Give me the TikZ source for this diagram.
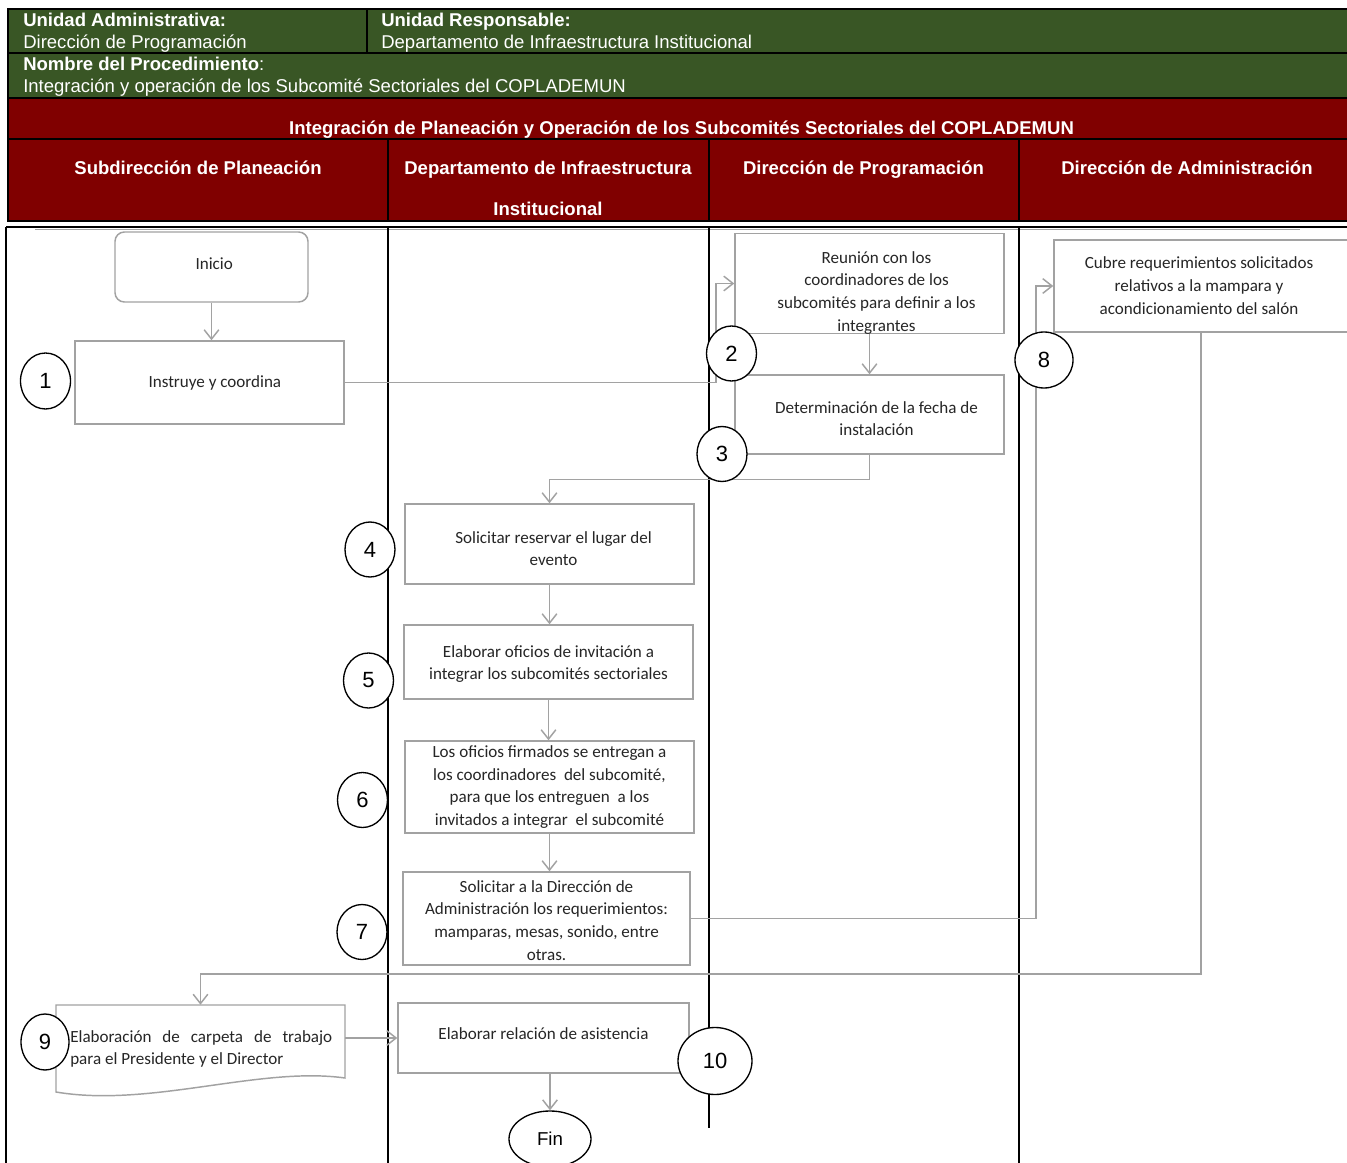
\documentclass[tikz,border=0pt]{standalone}
\usepackage{fontspec}
\setmainfont{Liberation Sans}
\newfontfamily\boxfont{Carlito}
\usetikzlibrary{arrows.meta,shapes.geometric}
\definecolor{hdrgreen}{RGB}{57,86,37}
\definecolor{hdrred}{RGB}{128,0,0}
\definecolor{flowgray}{RGB}{162,162,162}
\definecolor{boxtext}{RGB}{38,38,38}
% text block moved right by #1 (twice the visible shift) and down by #2
\newcommand\offsettext[3]{\hspace*{#1}\raisebox{-#2}[\height][\depth]{\begin{tabular}{@{}c@{}}#3\end{tabular}}}

\begin{document}
\begin{tikzpicture}[x=0.75pt,y=-0.75pt,
  px/.style 2 args={minimum width=#1*0.75pt,minimum height=#2*0.75pt},
  hdrtext/.style={text=white,inner sep=0pt,font=\fontsize{13.9pt}{16pt}\selectfont},
  hdrbold/.style={text=white,inner sep=0pt,font=\fontsize{13.9pt}{16pt}\selectfont\bfseries},
  rule/.style={black,line width=1.7pt},
  lane/.style={black,line width=2.2pt},
  box/.style={draw=flowgray,line width=1.1pt,fill=white,inner sep=0pt,align=center,
    text=boxtext,font=\boxfont\fontsize{12.8pt}{17pt}\selectfont},
  num/.style={draw=black,line width=1pt,fill=white,ellipse,inner sep=0pt,
    font=\fontsize{16.5pt}{17pt}\selectfont},
  flow/.style={draw=flowgray,line width=1.1pt,-{Straight Barb[length=7pt,width=11pt]}}
]
\useasboundingbox (0,0) rectangle (1347,1163);
\fill[white] (0,0) rectangle (1347,1163);

% ---------- header block ----------
\fill[hdrgreen] (8,9) rectangle (1352,98);
\fill[hdrred] (8,98) rectangle (1352,221);
\draw[rule] (8,9) rectangle (1352,221);
\draw[rule] (8,53) -- (1352,53);
\draw[rule] (8,98) -- (1352,98);
\draw[rule] (8,139) -- (1352,139);
\draw[rule] (367,9) -- (367,53);
\draw[rule] (388,139) -- (388,221);
\draw[rule] (709,139) -- (709,221);
\draw[rule] (1019,139) -- (1019,221);

\node[hdrbold,anchor=base west] (ua)  at (23,27) {Unidad Administrativa:};
\node[hdrtext,anchor=base west] (uad) at (23,48.5) {Dirección de Programación};
\node[hdrbold,anchor=base west] (ur)  at (381,27) {Unidad Responsable:};
\node[hdrtext,anchor=base west] (urd) at (381,48.5) {Departamento de Infraestructura Institucional};
\node[hdrtext,anchor=base west] (np)  at (23,71) {{\bfseries Nombre del Procedimiento}:};
\node[hdrtext,anchor=base west] (npd) at (23,92.5) {Integración y operación de los Subcomité Sectoriales del COPLADEMUN};
\node[hdrbold,anchor=base] (title) at (681.5,134) {Integración de Planeación y Operación de los Subcomités Sectoriales del COPLADEMUN};
\node[hdrbold,anchor=base] (h1)  at (198,175) {Subdirección de Planeación};
\node[hdrbold,anchor=base] (h2)  at (548,175) {Departamento de Infraestructura};
\node[hdrbold,anchor=base] (h2b) at (548,215) {Institucional};
\node[hdrbold,anchor=base] (h3)  at (863.5,175) {Dirección de Programación};
\node[hdrbold,anchor=base] (h4)  at (1187,175) {Dirección de Administración};

% ---------- swimlanes ----------
\draw[black,line width=1.4pt] (6,227) -- (1352,227);
\draw[flowgray,line width=0.8pt] (35,229.5) -- (1300,229.5);
\draw[black,line width=1.6pt] (6,227) -- (6,1165);
\draw[lane] (388,227) -- (388,1165);
\draw[lane] (709,227) -- (709,1128);
\draw[lane] (1019,227) -- (1019,1165);

% ---------- process steps ----------
\node[box,rounded corners=7pt,px={193}{70}] (inicio) at (211.5,267) {\offsettext{4pt}{-1.5pt}{Inicio}};
\node[box,px={269}{83}] (instr) at (209.5,382.5) {\hspace*{8pt}Instruye y coordina};
\node[box,px={269}{100}] (reun) at (869.5,283.5) {\offsettext{10.5pt}{6.75pt}{Reunión con los\\ coordinadores de los\\ subcomités para definir a los\\ integrantes}};
\node[box,px={269}{79}] (determ) at (869.5,414.5) {\offsettext{10.5pt}{4.2pt}{Determinación de la fecha de\\ instalación}};
\node[box,px={298}{92}] (cubre) at (1203,286) {\offsettext{0pt}{0.8pt}{Cubre requerimientos solicitados\\ relativos a la mampara y\\ acondicionamiento del salón}\hspace*{6pt}};
\node[box,px={289}{80}] (sres) at (549.5,544) {\offsettext{6pt}{4.5pt}{Solicitar reservar el lugar del\\ evento}};
\node[box,px={289}{74}] (elab) at (548.5,662) {\offsettext{0pt}{1.5pt}{Elaborar oficios de invitación a\\ integrar los subcomités sectoriales}};
\node[box,px={289}{92}] (ofic) at (549.5,787) {Los oficios firmados se entregan a\\ los coordinadores\ \ del subcomité,\\ para que los entreguen\ \ a los\\ invitados a integrar\ \ el subcomité};
\node[box,px={287}{93}] (solic) at (546.5,918.5) {\offsettext{0pt}{2.4pt}{Solicitar a la Dirección de\\ Administración los requerimientos:\\ mamparas, mesas, sonido, entre\\ otras.}};

% document-shaped step
\node[inner sep=0pt,px={289}{75}] (doc) at (200.5,1042.5) {};
\draw[flowgray,line width=1.1pt,fill=white] (56,1005) -- (345,1005) -- (345,1078)
  .. controls (260,1066) and (150,1108) .. (56,1092) -- cycle;
\node[inner sep=0pt,text width=196.5pt,align=justify,text=boxtext,
  font=\boxfont\fontsize{12.8pt}{17pt}\selectfont,anchor=north west] (doctext) at (70,1030)
  {Elaboración de carpeta de trabajo\linebreak para el Presidente y el Director};

\node[box,px={291}{70}] (rel) at (543.5,1038) {\offsettext{0pt}{-2.5pt}{Elaborar relación de asistencia}};
\node[draw=black,line width=1pt,fill=white,ellipse,inner sep=0pt,px={82}{56},
  font=\fontsize{14pt}{16pt}\selectfont] (fin) at (550,1139) {Fin};

% ---------- connectors ----------
\coordinate (k1) at (716,300);
\coordinate (k2) at (1036,600);
\coordinate (k3) at (1201,974);
\draw[flow] (inicio.south) -- (inicio.south |- instr.north);
\draw[flow] (instr.east) -- (instr.east -| k1) |- (reun.west);
\draw[flow] (reun.south) -- (determ.north);
\draw[flow] (determ.south) -- ++(0,25) -| (sres.north);
\draw[flow] (sres.south) -- (sres.south |- elab.north);
\draw[flow] (elab.south) -- (elab.south |- ofic.north);
\draw[flow] (ofic.south) -- (ofic.south |- solic.north);
\draw[flow] (solic.east) -- (solic.east -| k2) |- (cubre.west);
\draw[flow] (cubre.south -| k3) -- (k3) -| (doc.north);
\draw[flow] (doc.east |- rel.west) -- (rel.west);
\draw[flow] (fin.north |- rel.south) -- (fin.north);

% ---------- step numbers ----------
\node[num,px={50}{56}] (c1) at (45.5,381) {1};
\node[num,px={50}{55}] (c2) at (731.5,353.5) {2};
\node[num,px={50}{55}] (c3) at (722,454) {3};
\node[num,px={50}{55}] (c4) at (370,549.5) {4};
\node[num,px={50}{55}] (c5) at (368.5,680.5) {5};
\node[num,px={50}{55}] (c6) at (362.5,800) {6};
\node[num,px={50}{55}] (c7) at (362,932) {7};
\node[num,px={58}{56}] (c8) at (1044,360) {8};
\node[num,px={48}{56}] (c9) at (45,1042) {9};
\node[num,px={74}{67}] (c10) at (715,1061) {10};
\end{tikzpicture}
\end{document}
